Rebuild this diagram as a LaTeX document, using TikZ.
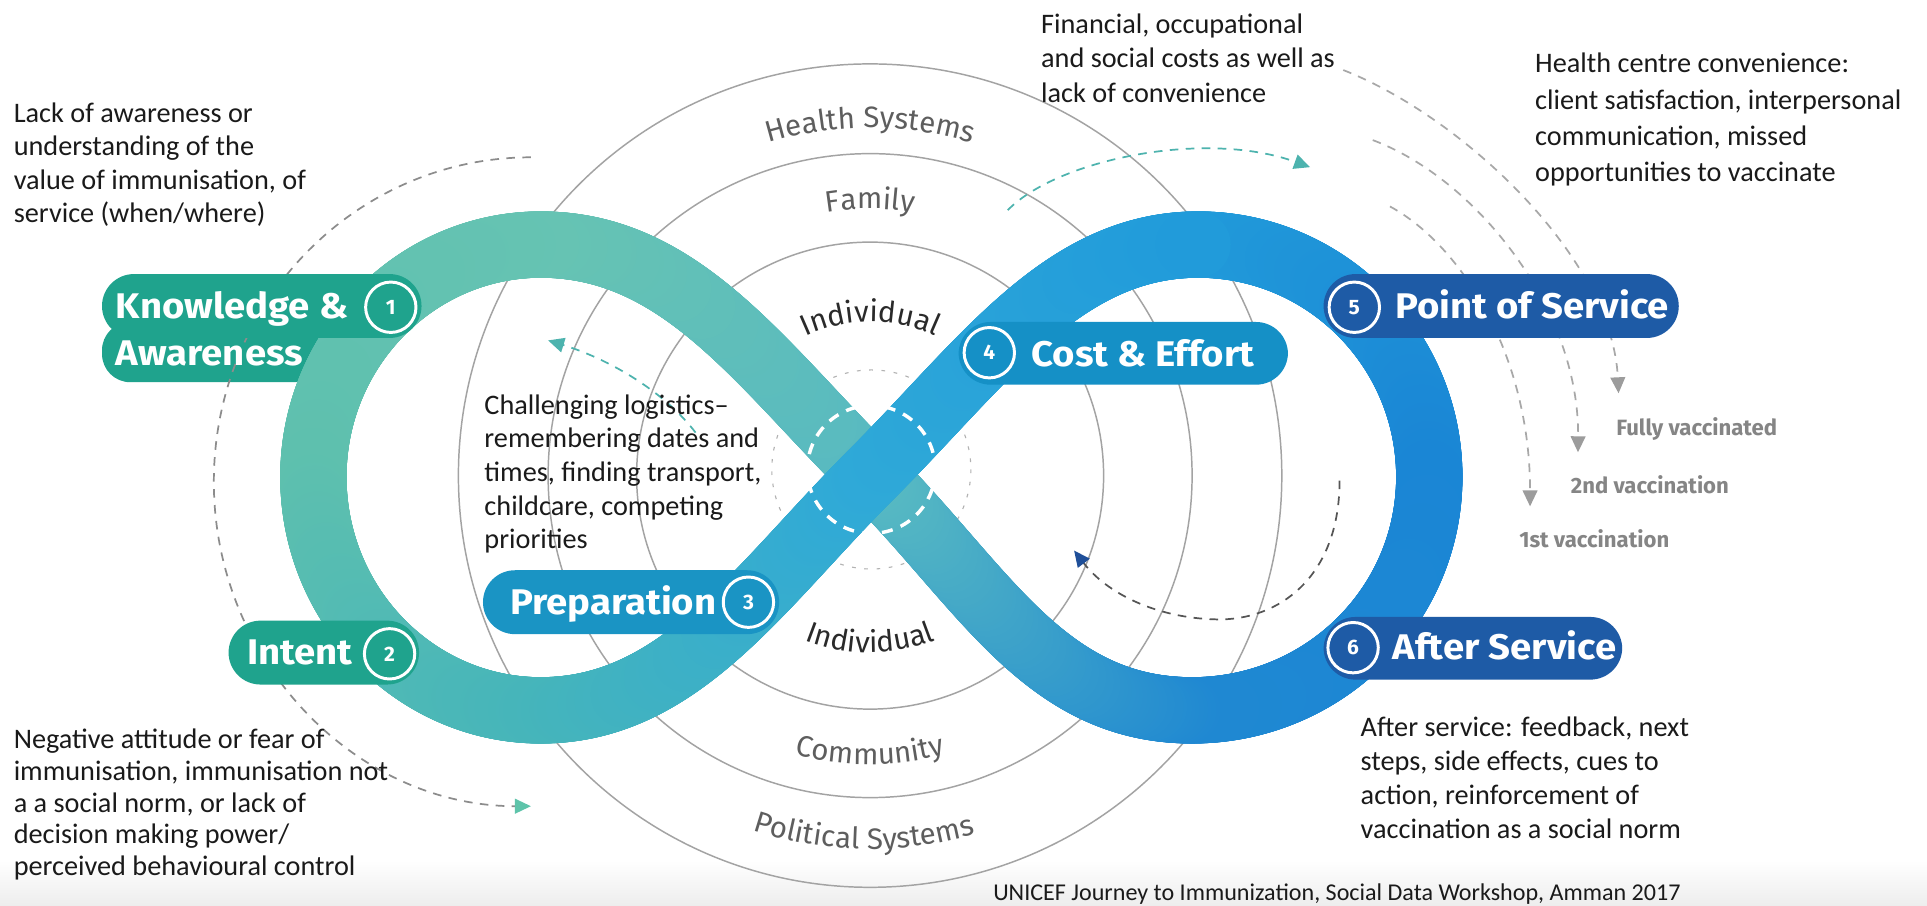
\documentclass[tikz,border=0pt]{standalone}
\usepackage{fontspec}
\setmainfont{Carlito}
\newfontfamily\tabfont{Fira Sans}
\newfontfamily\tabwide{Fira Sans}[FakeStretch=1.075]
\usetikzlibrary{arrows.meta,decorations.text,decorations.markings}

\definecolor{bRT}{HTML}{219BDA}
\definecolor{bR}{HTML}{1A86D5}
\definecolor{bRB}{HTML}{1F88D2}
\definecolor{bCu}{HTML}{57B9C2}
\definecolor{bT}{HTML}{66C3B3}
\definecolor{bL}{HTML}{5EC0AE}
\definecolor{bB}{HTML}{46B5BA}
\definecolor{bCo}{HTML}{2FA9D8}
\definecolor{tabteal}{HTML}{1FA38D}
\definecolor{tabcyan}{HTML}{1A94C4}
\definecolor{tabblue}{HTML}{1590C6}
\definecolor{tabnavy}{HTML}{1E5BA6}
\definecolor{ringline}{HTML}{A3A3A3}
\definecolor{lblgray}{HTML}{5E5E5E}
\definecolor{lbldark}{HTML}{2A2A2A}
\definecolor{dashgray}{HTML}{8C8C8C}
\definecolor{dashlight}{HTML}{A8A8A8}
\definecolor{arrowgray}{HTML}{9C9C9C}
\definecolor{dashteal}{HTML}{4DB3AE}
\definecolor{headteal}{HTML}{5EC4AA}
\definecolor{dashdark}{HTML}{555555}
\definecolor{headnavy}{HTML}{1F4F99}
\definecolor{vacgray}{HTML}{858585}
\definecolor{txt}{HTML}{1A1A1A}

\tikzset{
  bandpiece/.style 2 args={decorate, decoration={markings,
    mark=between positions 0 and 1 step 1pt with {%
      \pgfmathtruncatemacro\bandpct{min(100,\pgfkeysvalueof{/pgf/decoration/mark info/distance from start}/\pgfdecoratedpathlength*100)}%
      \fill[#2!\bandpct!#1] (0pt,0pt) circle[radius=27pt];}}},
  ring/.style={ringline, line width=1.2pt},
  tablabel/.style={anchor=west, inner sep=0pt, text=white, text height=20pt, text depth=0pt,
    font=\tabwide\bfseries\fontsize{29}{29}\selectfont},
  numc/.style={circle, draw=white, line width=2.4pt, minimum size=41pt, inner sep=0pt, text=white,
    font=\tabfont\bfseries\fontsize{17}{17}\selectfont},
  anno/.style={anchor=north west, align=left, inner sep=0pt, text=txt},
  vac/.style={anchor=west, inner sep=0pt, text=vacgray, text height=13pt, text depth=0pt,
    font=\tabfont\bfseries\fontsize{18}{18}\selectfont},
  gdash/.style={line width=1.4pt, dash pattern=on 7pt off 6pt},
  grayhead/.style={-{Triangle[length=13pt,width=12pt,color=arrowgray]}},
  curvlbl/.style 2 args={decorate, decoration={text along path, text align=center,
    text={|\tabfont\fontsize{24}{24}\selectfont\color{#1}|#2}}}
}

\begin{document}
\begin{tikzpicture}[x=1pt,y=-1pt]
\useasboundingbox (0,0) rectangle (1568,737);
\fill[white] (0,0) rectangle (1568,737);
\fill[top color=white, bottom color=black!7] (0,700) rectangle (1568,737);

% concentric circles
\coordinate (O) at (708,387);
\draw[ring] (O) circle[radius=190];
\draw[ring] (O) circle[radius=262];
\draw[ring] (O) circle[radius=335];

% curved labels
\path[curvlbl={lblgray}{Health Systems}] (O) ++(240:283) arc[start angle=240,end angle=300,radius=283];
\path[curvlbl={lblgray}{Family}] (O) ++(240:217) arc[start angle=240,end angle=300,radius=217];
\path[curvlbl={lbldark}{Individual}] (O) ++(220:125) arc[start angle=220,end angle=320,radius=125];
\path[curvlbl={lbldark}{Individual}] (O) ++(135:144) arc[start angle=135,end angle=45,radius=144];
\path[curvlbl={lblgray}{Community}] (O) ++(120:235) arc[start angle=120,end angle=60,radius=235];
\path[curvlbl={lblgray}{Political Systems}] (O) ++(118:304) arc[start angle=118,end angle=64,radius=304];

% faint clock ring
\coordinate (X) at (709,382);
\draw[black!30, line width=0.9pt, dash pattern=on 3pt off 7pt] (X) circle[radius=81];

% tab 1 lower row (under the band)
\fill[tabteal, rounded corners=23pt] (83,262) rectangle (270,311);

% the figure-eight band
\coordinate (C) at (709,386);
\coordinate (T) at (440,199);
\coordinate (L) at (255,388);
\coordinate (B) at (440,578);
\coordinate (RT) at (975,199);
\coordinate (R) at (1163,388);
\coordinate (RB) at (970,578);
\path[bandpiece={bRT}{bR}] (RT) .. controls (1079,199) and (1163,284) .. (R);
\path[bandpiece={bR}{bRB}] (R) .. controls (1163,493) and (1077,578) .. (RB);
\path[bandpiece={bRB}{bCu}] (RB) .. controls (850,578) and (801,478) .. (C);
\path[bandpiece={bCu}{bT}] (C) .. controls (617,294) and (553,199) .. (T);
\path[bandpiece={bT}{bL}] (T) .. controls (338,199) and (255,284) .. (L);
\path[bandpiece={bL}{bB}] (L) .. controls (255,493) and (338,578) .. (B);
\path[bandpiece={bB}{bCo}] (B) .. controls (553,578) and (617,478) .. (C);
\path[bandpiece={bCo}{bRT}] (C) .. controls (801,294) and (865,199) .. (RT);

\draw[white, line width=2.8pt, dash pattern=on 9pt off 7pt] (X) circle[radius=52];

% dashed arcs
\coordinate (kaS) at (432,128);
\draw[dashgray, gdash, -{Triangle[length=13pt,width=12pt,color=headteal]}]
  (kaS) arc[start angle=270, end angle=90, x radius=258, y radius=264];
\coordinate (ceS) at (820,171);
\coordinate (ceE) at (1066,136);
\draw[dashteal, gdash, -{Triangle[length=13pt,width=12pt,color=dashteal]}]
  (ceS) .. controls (860,130) and (980,105) .. (ceE);
\coordinate (prS) at (566,352);
\coordinate (prE) at (446,277);
\draw[dashteal, gdash, -{Triangle[length=13pt,width=12pt,color=dashteal]}]
  (prS) .. controls (540,318) and (495,292) .. (prE);
\coordinate (asS) at (1090,391);
\coordinate (asM) at (990,504);
\coordinate (asE) at (874,448);
\draw[dashdark, gdash, -{Triangle[length=13pt,width=12pt,color=headnavy]}]
  (asS) .. controls (1090,470) and (1040,505) .. (asM) .. controls (940,503) and (900,482) .. (asE);
\coordinate (aS) at (1093,57);  \coordinate (aE) at (1317,320);
\coordinate (bS) at (1117,114); \coordinate (bE) at (1284,368);
\coordinate (cS) at (1131,168); \coordinate (cE) at (1245,412);
\draw[dashlight, gdash, grayhead] (aS) .. controls (1190,95) and (1312,210) .. (aE);
\draw[dashlight, gdash, grayhead] (bS) .. controls (1200,145) and (1285,250) .. (bE);
\draw[dashlight, gdash, grayhead] (cS) .. controls (1190,200) and (1245,290) .. (cE);

% tabs
\fill[tabteal, rounded corners=26pt] (83,223) rectangle (343,275);
\node[tablabel] (t1a) at (94,249) {Knowledge \&};
\node[tablabel] (t1b) at (94,287) {Awareness};
\node[numc] (n1) at (318,250) {1};

\fill[tabteal, rounded corners=26pt] (186,505) rectangle (341,557);
\node[tablabel] (t2) at (201,531) {Intent};
\node[numc] (n2) at (317,532) {2};

\fill[tabcyan, rounded corners=26pt] (393,464) rectangle (634,516);
\node[tablabel] (t3) at (415,490) {Preparation};
\node[numc] (n3) at (609,490) {3};

\fill[tabblue, rounded corners=26pt] (780,262) rectangle (1048,313);
\node[tablabel] (t4) at (839,288) {Cost \& Effort};
\node[numc] (n4) at (805,287) {4};

\fill[tabnavy, rounded corners=26pt] (1077,223) rectangle (1366,275);
\node[tablabel] (t5) at (1135,249) {Point of Service};
\node[numc] (n5) at (1102,250) {5};

\fill[tabnavy, rounded corners=26pt] (1077,502) rectangle (1320,553);
\node[tablabel] (t6) at (1133,527) {After Service};
\node[numc] (n6) at (1101,527) {6};

% vaccination labels
\node[vac] (v3) at (1315,348) {Fully vaccinated};
\node[vac] (v2) at (1278,395) {2nd vaccination};
\node[vac] (v1) at (1236,439) {1st vaccination};

% annotations
\node[anno, font=\fontsize{23}{27.3}\selectfont] (awr) at (11,80)
  {\strut Lack of awareness or\\understanding of the\\value of immunisation, of\\service (when/where)};
\node[anno, font=\fontsize{23}{28}\selectfont] (fin) at (847,7.4)
  {\strut Financial, occupational\\and social costs as well as\\lack of convenience};
\node[anno, font=\fontsize{23}{29.6}\selectfont] (hcc) at (1249,38.3)
  {\strut Health centre convenience:\\client satisfaction, interpersonal\\communication, missed\\opportunities to vaccinate};
\node[anno, font=\fontsize{23}{27.3}\selectfont] (log) at (394,317.9)
  {\strut Challenging logistics--\\remembering dates and\\times, finding transport,\\childcare, competing\\priorities};
\node[anno, font=\fontsize{23}{25.75}\selectfont] (neg) at (11,591)
  {\strut Negative attitude or fear of\\immunisation, immunisation not\\a a social norm, or lack of\\decision making power/\\perceived behavioural control};
\node[anno, font=\fontsize{23}{27.7}\selectfont] (aft) at (1107,579.6)
  {\strut After service: feedback, next\\steps, side effects, cues to\\action, reinforcement of\\vaccination as a social norm};
\node[anchor=base west, inner sep=0pt, text=txt, font=\fontsize{19.6}{22}\selectfont] (src) at (808,733)
  {UNICEF Journey to Immunization, Social Data Workshop, Amman 2017};
\end{tikzpicture}
\end{document}
